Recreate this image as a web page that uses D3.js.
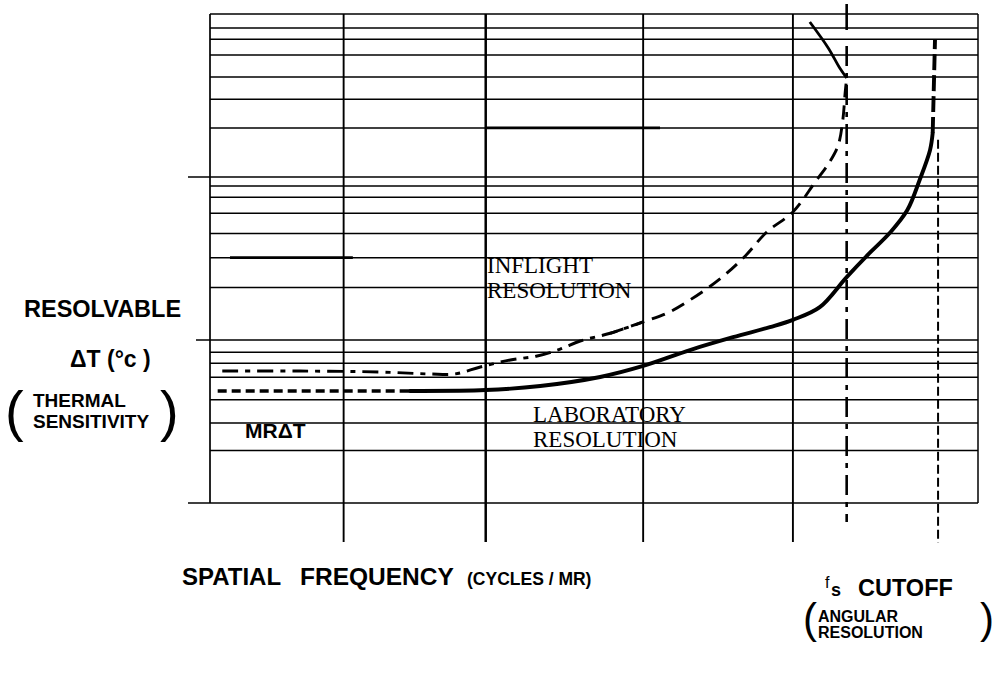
<!DOCTYPE html>
<html>
<head>
<meta charset="utf-8">
<script src="https://cdn.jsdelivr.net/npm/d3@7"></script>
<style>
  body { margin: 0; background: #fff; }
  svg { display: block; }
  .sans { font-family: "Liberation Sans", Arial, Helvetica, sans-serif; font-weight: bold; fill: #000; }
  .serif { font-family: "Liberation Serif", "Times New Roman", serif; fill: #000; }
</style>
</head>
<body>
<svg id="chart" width="1003" height="675"></svg>
<script>
// Spatial frequency (arbitrary units, 0–100 across the frame)
const xDomain = [0, 100];
const xGrid = [17.4, 35.9, 56.4, 75.9];
const fsCutoff = 82.9;      // f_s (angular resolution) cutoff
const labCutoff = 94.8;     // laboratory cutoff

// Resolvable ΔT (log axis)
const yDomain = [1, 1000];
const yDecades = [1, 10, 100, 1000];
const yMinor = [2.1, 3.1, 4.3, 5.9, 7.2, 8.4, 21, 32, 45, 60, 75, 88, 200, 300, 410, 560, 700, 820];

// Inflight resolution curve: dash-dot low part, dashed rising part
const inflightLowX = [1.6, 11.7, 22.1, 28.6, 31.9, 35.2, 39.1, 42.6, 45.6, 48.2, 52.1, 56.4];
const inflightLowY = [6.45, 6.45, 6.36, 6.19, 6.19, 6.83, 7.54, 7.98, 8.80, 9.86, 11.0, 12.9];
const inflightX = [52.1, 56.4, 59.5, 62.5, 66.4, 69.7, 72.5, 75.9, 78.8, 80.7, 81.8, 82.4, 82.7, 82.9];
const inflightY = [11.0, 12.9, 14.6, 17.6, 23.7, 32.8, 46.0, 61.0, 93.2, 124, 157, 224, 328, 405];
// Inflight curve turning back above the cutoff
const hookX = [82.9, 82.0, 80.5, 78.1];
const hookY = [405, 466, 619, 893];

// Laboratory resolution curve (MRΔT)
const labLowX = [1.0, 26.0];
const labLowY = [4.87, 4.87];
const labX = [26.0, 35.9, 43.0, 50.8, 56.4, 62.5, 68.1, 72.9, 75.9, 79.4, 82.9, 85.9, 88.5, 90.8, 92.4, 93.75, 94.1];
const labY = [4.87, 4.93, 5.22, 5.93, 6.93, 8.68, 10.4, 12.0, 13.3, 15.9, 24.3, 34.2, 45.3, 62.7, 95.9, 146, 186];
const labTopX = [94.1, 94.4];
const labTopY = [186, 693];

// Heavier grid segments
const boldSegY = [200, 32];
const boldSegX0 = [35.9, 2.6];
const boldSegX1 = [58.6, 18.6];

(function draw() {
  const svg = d3.select("#chart");
  const mLeft = 210, mRight = 978, mTop = 14, mBottom = 503;

  const x = d3.scaleLinear().domain(xDomain).range([mLeft, mRight]);
  const y = d3.scaleLog().domain(yDomain).range([mBottom, mTop]);

  const g = svg.append("g");

  // Horizontal grid (minor lines and decades)
  g.selectAll("line.hminor").data(yMinor).join("line")
    .attr("x1", mLeft).attr("x2", mRight)
    .attr("y1", d => y(d)).attr("y2", d => y(d))
    .attr("stroke", "#000").attr("stroke-width", 1.5);

  const tickLen = d => (d === 10 ? 14 : (d === 1000 ? 0 : 22));
  g.selectAll("line.hdec").data(yDecades).join("line")
    .attr("x1", d => mLeft - tickLen(d)).attr("x2", mRight)
    .attr("y1", d => y(d)).attr("y2", d => y(d))
    .attr("stroke", "#000").attr("stroke-width", 1.7);

  // Vertical grid, extending below the frame
  g.selectAll("line.vgrid").data(xGrid).join("line")
    .attr("x1", d => x(d)).attr("x2", d => x(d))
    .attr("y1", mTop).attr("y2", mBottom + 39)
    .attr("stroke", "#000").attr("stroke-width", (d, i) => i === 1 ? 2.5 : 1.9);

  // Frame sides
  g.append("line").attr("x1", mLeft).attr("x2", mLeft).attr("y1", mTop).attr("y2", mBottom)
    .attr("stroke", "#000").attr("stroke-width", 1.7);
  g.append("line").attr("x1", mRight).attr("x2", mRight).attr("y1", mTop).attr("y2", mBottom)
    .attr("stroke", "#000").attr("stroke-width", 1.5);

  // Heavier segments
  g.selectAll("line.bold").data(boldSegY).join("line")
    .attr("x1", (d, i) => x(boldSegX0[i])).attr("x2", (d, i) => x(boldSegX1[i]))
    .attr("y1", d => y(d)).attr("y2", d => y(d))
    .attr("stroke", "#000").attr("stroke-width", 2.7);

  // f_s cutoff: solid stub above the frame, dash-dot below
  const fsX = x(fsCutoff);
  g.append("line").attr("x1", fsX).attr("x2", fsX).attr("y1", mTop - 10).attr("y2", mTop + 16)
    .attr("stroke", "#000").attr("stroke-width", 2.6);
  g.append("line").attr("x1", fsX).attr("x2", fsX).attr("y1", mTop + 32).attr("y2", mBottom + 19)
    .attr("stroke", "#000").attr("stroke-width", 2.6)
    .attr("stroke-dasharray", "20,7,5,7");

  // Laboratory cutoff: thin dashed vertical
  const lcX = x(labCutoff);
  g.append("line").attr("x1", lcX).attr("x2", lcX).attr("y1", y(169)).attr("y2", mBottom + 40)
    .attr("stroke", "#000").attr("stroke-width", 2)
    .attr("stroke-dasharray", "9,4");

  const line = d3.line().x(d => x(d[0])).y(d => y(d[1])).curve(d3.curveCatmullRom.alpha(0.5));
  const zip = (a, b) => a.map((v, i) => [v, b[i]]);

  // Inflight resolution
  g.append("path").attr("d", line(zip(inflightLowX, inflightLowY)))
    .attr("fill", "none").attr("stroke", "#000").attr("stroke-width", 2.9)
    .attr("stroke-dasharray", "16,7,5,7");
  g.append("path").attr("d", line(zip(inflightX, inflightY)))
    .attr("fill", "none").attr("stroke", "#000").attr("stroke-width", 2.9)
    .attr("stroke-dasharray", "14,8");
  g.append("path").attr("d", line(zip(hookX, hookY)))
    .attr("fill", "none").attr("stroke", "#000").attr("stroke-width", 2.8);

  // Laboratory resolution
  g.append("path").attr("d", line(zip(labLowX, labLowY)))
    .attr("fill", "none").attr("stroke", "#000").attr("stroke-width", 3.6)
    .attr("stroke-dasharray", "9,5");
  g.append("path").attr("d", line(zip(labX, labY)))
    .attr("fill", "none").attr("stroke", "#000").attr("stroke-width", 3.9)
    .attr("stroke-linecap", "round");
  g.append("path").attr("d", line(zip(labTopX, labTopY)))
    .attr("fill", "none").attr("stroke", "#000").attr("stroke-width", 3.9)
    .attr("stroke-dasharray", "16,5");

  // Labels
  const t = svg.append("g");
  t.append("text").attr("class", "sans").attr("x", 24).attr("y", 317).attr("font-size", 23.5)
    .text("RESOLVABLE");
  t.append("text").attr("class", "sans").attr("x", 70).attr("y", 367).attr("font-size", 23)
    .text("ΔT (°c )");
  t.append("text").attr("class", "sans").attr("x", 5).attr("y", 430).attr("font-size", 56)
    .style("font-weight", "normal").text("(");
  t.append("text").attr("class", "sans").attr("x", 160).attr("y", 430).attr("font-size", 56)
    .style("font-weight", "normal").text(")");
  // Two-line bracketed note, drawn as one text with stacked tspans
  const therm = t.append("text").attr("class", "sans").attr("font-size", 19);
  therm.append("tspan").attr("x", 33).attr("y", 407).text("THERMAL");
  therm.append("tspan").attr("x", 33).attr("y", 428).text("SENSITIVITY");
  t.append("text").attr("class", "sans").attr("x", 245).attr("y", 438).attr("font-size", 21).text("MRΔT");

  const inf = t.append("text").attr("class", "serif").attr("font-size", 23);
  inf.append("tspan").attr("x", 487).attr("y", 273).text("INFLIGHT");
  inf.append("tspan").attr("x", 487).attr("y", 298).text("RESOLUTION");
  const lab = t.append("text").attr("class", "serif").attr("font-size", 23);
  lab.append("tspan").attr("x", 533).attr("y", 422).text("LABORATORY");
  lab.append("tspan").attr("x", 533).attr("y", 447).text("RESOLUTION");

  t.append("text").attr("class", "sans").attr("x", 182).attr("y", 585).attr("font-size", 24)
    .text("SPATIAL");
  t.append("text").attr("class", "sans").attr("x", 300).attr("y", 585).attr("font-size", 24.5)
    .text("FREQUENCY");
  t.append("text").attr("class", "sans").attr("x", 467).attr("y", 585).attr("font-size", 17.5).text("(CYCLES / MR)");

  t.append("text").attr("class", "sans").attr("x", 825).attr("y", 588).attr("font-size", 16).style("font-weight", "normal").text("f");
  t.append("text").attr("class", "sans").attr("x", 831).attr("y", 596).attr("font-size", 18).text("s");
  t.append("text").attr("class", "sans").attr("x", 858).attr("y", 596).attr("font-size", 23.5).text("CUTOFF");
  t.append("text").attr("class", "sans").attr("x", 803).attr("y", 633).attr("font-size", 42)
    .style("font-weight", "normal").text("(");
  t.append("text").attr("class", "sans").attr("x", 980).attr("y", 633).attr("font-size", 42)
    .style("font-weight", "normal").text(")");
  const ang = t.append("text").attr("class", "sans").attr("font-size", 16);
  ang.append("tspan").attr("x", 818).attr("y", 622).text("ANGULAR");
  ang.append("tspan").attr("x", 818).attr("y", 638).text("RESOLUTION");
})();
</script>
</body>
</html>
